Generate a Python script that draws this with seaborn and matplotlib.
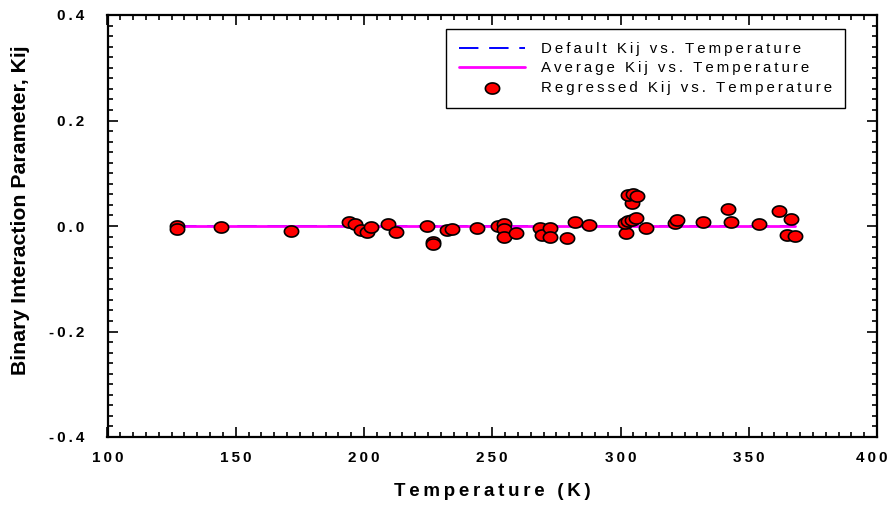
import numpy as np
import pandas as pd
import matplotlib
matplotlib.use("Agg")
import matplotlib.pyplot as plt
from matplotlib.path import Path
from matplotlib.ticker import MultipleLocator
from matplotlib.transforms import ScaledTranslation
import seaborn as sns

# Regressed binary interaction parameters
temperature_k = [127.2, 127.2, 144.1, 171.4, 194.3, 196.5, 198.8, 201.3, 202.6,
                 209.5, 212.5, 224.4, 226.8, 226.8, 232.2, 234.4, 244.2, 252.4,
                 254.6, 254.6, 254.6, 259.3, 268.6, 269.3, 272.5, 272.5, 279.0,
                 282.3, 287.8, 302.1, 301.7, 303.0, 304.4, 306.0, 304.4, 303.0,
                 305.0, 306.3, 309.8, 321.3, 321.9, 332.0, 342.0, 343.1, 354.1,
                 361.9, 366.4, 365.0, 368.0]
kij_regressed = [0.000, -0.005, -0.001, -0.009, 0.008, 0.003, -0.008, -0.011, -0.002,
                 0.003, -0.011, 0.000, -0.030, -0.034, -0.008, -0.006, -0.004, 0.000,
                 0.004, -0.006, -0.021, -0.014, -0.004, -0.017, -0.004, -0.021, -0.023,
                 0.007, 0.002, -0.013, 0.006, 0.009, 0.012, 0.016, 0.043, 0.058,
                 0.060, 0.057, -0.004, 0.005, 0.012, 0.007, 0.032, 0.007, 0.003,
                 0.028, 0.013, -0.018, -0.019]

# Constant-Kij reference lines over the measured range
line_temperature = [127.2, 368.2]
kij_default = [0.0, 0.0]
kij_average = [0.0004, 0.0004]

x_ticks = [100, 150, 200, 250, 300, 350, 400]
x_tick_labels = ["100", "150", "200", "250", "300", "350", "400"]
y_ticks = [-0.4, -0.2, 0.0, 0.2, 0.4]
y_tick_labels = ["-0.4", "-0.2", "0.0", "0.2", "0.4"]
legend_labels = ["Default Kij vs. Temperature",
                 "Average Kij vs. Temperature",
                 "Regressed Kij vs. Temperature"]
x_label = "Temperature (K)"
y_label = "Binary Interaction Parameter, Kij"

sns.set_theme(style="white")
FAMILY = ["Liberation Sans", "DejaVu Sans"]
plt.rcParams["font.family"] = FAMILY


def spaced(text):
    # widen the tracking with thin spaces between characters
    return "\u2009".join(text)


points = pd.DataFrame({"T": temperature_k, "Kij": kij_regressed})
lines = pd.DataFrame({"T": line_temperature, "default": kij_default,
                      "average": kij_average})

fig = plt.figure(figsize=(8.9, 5.05), dpi=100)
ax = fig.add_axes([107.5 / 890, 1 - 437 / 505, 769.5 / 890, 422 / 505])

sns.lineplot(data=lines, x="T", y="default", ax=ax, color="#0000ff",
             linewidth=1.4, linestyle=(0, (10, 5.5)), label=spaced(legend_labels[0]))
sns.lineplot(data=lines, x="T", y="average", ax=ax, color="#ff00ff",
             linewidth=2.0, label=spaced(legend_labels[1]))

theta = np.linspace(0, 2 * np.pi, 73)
ellipse = Path(np.column_stack([np.cos(theta), 0.78 * np.sin(theta)]), closed=True)
sns.scatterplot(data=points, x="T", y="Kij", ax=ax, marker=ellipse, s=105,
                color="#ff0000", edgecolor="black", linewidth=1.2, zorder=3,
                label=spaced(legend_labels[2]))

ax.set_xlim(100, 400)
ax.set_ylim(-0.4, 0.4)
ax.set_xticks(x_ticks, labels=[spaced(t) for t in x_tick_labels])
ax.set_yticks(y_ticks, labels=[spaced(t) for t in y_tick_labels])
ax.xaxis.set_minor_locator(MultipleLocator(5))
ax.yaxis.set_minor_locator(MultipleLocator(0.02))
ax.tick_params(which="both", direction="in", top=True, right=True,
               bottom=True, left=True, color="black", width=1.2)
ax.tick_params(which="major", length=7, labelsize=11)
ax.tick_params(which="minor", length=3.5)
ax.tick_params(axis="x", which="major", pad=10)
ax.tick_params(axis="y", which="major", pad=17)
for lab in ax.get_xticklabels() + ax.get_yticklabels():
    lab.set_fontweight("bold")
    lab.set_color("black")

# keep the right-most temperature label inside the canvas
last = ax.get_xticklabels()[-1]
last.set_transform(last.get_transform()
                   + ScaledTranslation(-5 / 100, 0, fig.dpi_scale_trans))

for spine in ax.spines.values():
    spine.set_visible(True)
    spine.set_color("black")
    spine.set_linewidth(1.6)

ax.set_xlabel(spaced(x_label), fontsize=13.5, fontweight="bold", color="black")
ax.xaxis.set_label_coords(0.5, -0.108)
ax.set_ylabel(y_label, fontsize=15.3, fontweight="bold", color="black")
ax.yaxis.set_label_coords(-0.1007, 0.538)

leg = ax.legend(loc="upper left", bbox_to_anchor=(446 / 890, 1 - 29 / 505),
                bbox_transform=fig.transFigure, frameon=True, fancybox=False,
                framealpha=1, edgecolor="black", fontsize=10.8,
                handlelength=4.4, handletextpad=1.1, borderpad=0.85,
                borderaxespad=0, labelspacing=0.38)
leg.get_frame().set_linewidth(1.0)
for t in leg.get_texts():
    t.set_color("black")

fig.savefig("out.png", dpi=100, facecolor="white")
